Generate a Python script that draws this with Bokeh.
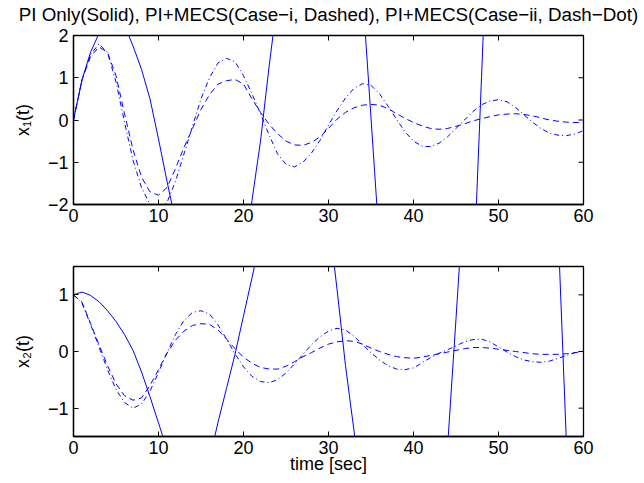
import math
from bokeh.plotting import figure
from bokeh.models import Range1d, FixedTicker, LinearAxis
from bokeh.layouts import column
from bokeh.embed import file_html
from bokeh.resources import INLINE

# ---------------- data ----------------
t = list(range(61))

# x1(t): PI+MECS Case-i (dashed) and Case-ii (dash-dot)
x1_case1 = [0, 0.95, 1.5, 1.73, 1.6, 1.05, 0.15, -0.7, -1.35, -1.7,
            -1.78, -1.6, -1.15, -0.65, -0.2, 0.25, 0.6, 0.85, 0.93, 0.96,
            0.85, 0.5, 0.18, -0.1, -0.32, -0.5, -0.59, -0.6, -0.53, -0.4,
            -0.2, 0.02, 0.18, 0.29, 0.35, 0.37, 0.35, 0.27, 0.15, 0.04,
            -0.06, -0.14, -0.2, -0.22, -0.2, -0.15, -0.09, -0.02, 0.03, 0.08,
            0.12, 0.14, 0.15, 0.13, 0.1, 0.05, 0.0, -0.03, -0.05, -0.06,
            -0.06]
x1_case2 = [0, 0.95, 1.55, 1.8, 1.6, 0.9, -0.05, -0.95, -1.6, -2.0,
            -2.15, -1.95, -1.45, -0.8, -0.15, 0.5, 1.0, 1.35, 1.46, 1.38,
            1.05, 0.62, 0.15, -0.35, -0.8, -1.05, -1.11, -1.0, -0.78, -0.48,
            -0.12, 0.22, 0.52, 0.75, 0.86, 0.82, 0.62, 0.33, 0.02, -0.28,
            -0.5, -0.62, -0.63, -0.55, -0.4, -0.2, 0.0, 0.2, 0.36, 0.45,
            0.48, 0.43, 0.3, 0.12, -0.05, -0.2, -0.31, -0.36, -0.37, -0.33,
            -0.25]

# x2(t): PI+MECS Case-i (dashed) and Case-ii (dash-dot)
x2_case1 = [1.0, 0.87, 0.5, 0.12, -0.25, -0.57, -0.78, -0.86, -0.82, -0.6,
            -0.32, -0.03, 0.2, 0.36, 0.46, 0.49, 0.48, 0.38, 0.22, 0.05,
            -0.1, -0.21, -0.28, -0.31, -0.31, -0.26, -0.18, -0.09, -0.02, 0.06,
            0.13, 0.17, 0.19, 0.18, 0.13, 0.06, 0.0, -0.05, -0.09, -0.11,
            -0.12, -0.1, -0.07, -0.04, -0.01, 0.02, 0.05, 0.07, 0.07, 0.06,
            0.04, 0.02, 0.0, -0.02, -0.04, -0.05, -0.05, -0.05, -0.04, -0.02,
            0.0]
x2_case2 = [1.0, 0.85, 0.48, 0.08, -0.32, -0.67, -0.9, -1.0, -0.93, -0.7,
            -0.37, -0.02, 0.3, 0.55, 0.69, 0.72, 0.66, 0.47, 0.22, -0.04,
            -0.27, -0.44, -0.53, -0.55, -0.5, -0.38, -0.22, -0.05, 0.12, 0.26,
            0.36, 0.41, 0.38, 0.27, 0.12, -0.02, -0.15, -0.25, -0.31, -0.32,
            -0.29, -0.2, -0.11, -0.03, 0.03, 0.1, 0.17, 0.21, 0.22, 0.17,
            0.08, -0.01, -0.09, -0.15, -0.18, -0.19, -0.17, -0.12, -0.07, -0.02,
            0.02]

# PI only (solid), unstable
t_pi1 = [0, 1, 2, 3, 4, 5, 6, 7, 8, 9, 10, 11, 12, 13, 15, 17, 19, 20, 20.5, 21,
         22, 23, 24, 26, 28.5, 31, 33, 34, 35, 36, 37, 39, 41.5, 44, 46, 47, 48,
         49, 51, 54, 57, 60]
x1_pi = [0, 0.95, 1.6, 2.05, 2.35, 2.45, 2.25, 1.75, 1.2, 0.5, -0.45, -1.45, -2.4,
         -3.3, -4.6, -5.1, -4.3, -3.5, -2.75, -1.9, -0.5, 1.25, 2.85, 6.5, 8, 7.5,
         5.8, 3.05, 0.05, -2.95, -5.8, -11, -13, -12, -9, -4, 1, 6, 14, 18, 16, 10]
t_pi2 = [0, 1, 2, 3, 4, 5, 6, 7, 8, 9, 10, 11, 12, 13, 14.5, 16, 17, 18, 19, 20,
         21, 22, 24, 26, 28, 30, 31, 32, 33, 34, 36, 39, 42, 44, 45, 46, 48, 51,
         54, 57, 58, 59, 60]
x2_pi = [1.0, 1.05, 0.99, 0.88, 0.72, 0.53, 0.3, 0.02, -0.36, -0.8, -1.26, -1.73,
         -2.2, -2.65, -2.9, -1.9, -1.25, -0.65, -0.05, 0.63, 1.3, 2.0, 3.5, 4, 3.5,
         2.4, 1.1, -0.25, -1.4, -2.6, -5, -7, -5, -1.7, 0.58, 2.9, 7, 9.5, 8, 2.2,
         -1.65, -5.5, -8]

x_ticks = [0, 10, 20, 30, 40, 50, 60]
y1_ticks = [-2, -1, 0, 1, 2]
y2_ticks = [-1, 0, 1]
title_text = "PI Only(Solid), PI+MECS(Case\u2212i, Dashed), PI+MECS(Case\u2212ii, Dash\u2212Dot)"

FONT = "Liberation Sans"
FS = "18px"
BLUE = "#0000ff"
LEFT, RIGHT = 73, 61
FRAME_W = 510


def style(p, yticks, ylabel):
    minus = {v: ("\u2212" + str(abs(v))) for v in yticks if v < 0}
    p.xgrid.visible = False
    p.ygrid.visible = False
    p.outline_line_color = "black"
    p.outline_line_width = 1.3
    p.xaxis.ticker = FixedTicker(ticks=x_ticks)
    p.yaxis.ticker = FixedTicker(ticks=yticks)
    p.yaxis.major_label_overrides = minus
    for ax in (p.xaxis[0], p.yaxis[0]):
        ax.major_tick_in = 5
        ax.major_tick_out = 0
        ax.minor_tick_line_color = None
        ax.axis_line_color = "black"
        ax.axis_line_width = 1.3
        ax.major_tick_line_color = "black"
        ax.major_label_text_font = FONT
        ax.major_label_text_font_size = FS
        ax.major_label_text_color = "black"
        ax.axis_label_text_font = FONT
        ax.axis_label_text_font_size = FS
        ax.axis_label_text_font_style = "normal"
        ax.axis_label_text_color = "black"
    p.xaxis.major_label_standoff = 4
    p.yaxis.major_label_standoff = 5
    p.yaxis.axis_label = ylabel
    p.yaxis.axis_label_standoff = 12
    # mirrored inward ticks on the top and right edges of the box
    x1 = p.x_range.end
    y1 = p.y_range.end
    p.scatter(x_ticks, [y1] * len(x_ticks), marker="dash", angle=math.pi / 2,
              size=10, line_color="black", line_width=1)
    p.scatter([x1] * len(yticks), yticks, marker="dash",
              size=10, line_color="black", line_width=1)


p1 = figure(frame_width=FRAME_W, frame_height=169, x_range=Range1d(0, 60),
            y_range=Range1d(-2, 2), output_backend="svg", toolbar_location=None,
            min_border_left=LEFT, min_border_right=RIGHT, min_border_top=34,
            min_border_bottom=31)
p1.line(t_pi1, x1_pi, line_color=BLUE, line_width=1)
p1.line(t, x1_case1, line_color=BLUE, line_width=1, line_dash="6 4")
p1.line(t, x1_case2, line_color=BLUE, line_width=1, line_dash="5 3 1 3")
style(p1, y1_ticks, "x\u2081(t)")
# title, carried by a tick-less axis above the top panel
title_axis = LinearAxis(ticker=FixedTicker(ticks=[]), axis_label=title_text,
                        axis_line_color=None, major_tick_in=0, major_tick_out=0,
                        minor_tick_line_color=None, major_label_standoff=0,
                        axis_label_standoff=11, axis_label_text_font=FONT,
                        axis_label_text_font_size="18.8px",
                        axis_label_text_font_style="normal",
                        axis_label_text_color="black")
p1.add_layout(title_axis, "above")

p2 = figure(frame_width=FRAME_W, frame_height=170, x_range=Range1d(0, 60),
            y_range=Range1d(-1.5, 1.5), output_backend="svg", toolbar_location=None,
            min_border_left=LEFT, min_border_right=RIGHT, min_border_top=31,
            min_border_bottom=44)
p2.line(t_pi2, x2_pi, line_color=BLUE, line_width=1)
p2.line(t, x2_case1, line_color=BLUE, line_width=1, line_dash="6 4")
p2.line(t, x2_case2, line_color=BLUE, line_width=1, line_dash="5 3 1 3")
style(p2, y2_ticks, "x\u2082(t)")
p2.xaxis.axis_label = "time [sec]"
p2.xaxis.axis_label_standoff = -3

layout = column(p1, p2, spacing=0)
open("out.html", "w").write(file_html(layout, INLINE))
